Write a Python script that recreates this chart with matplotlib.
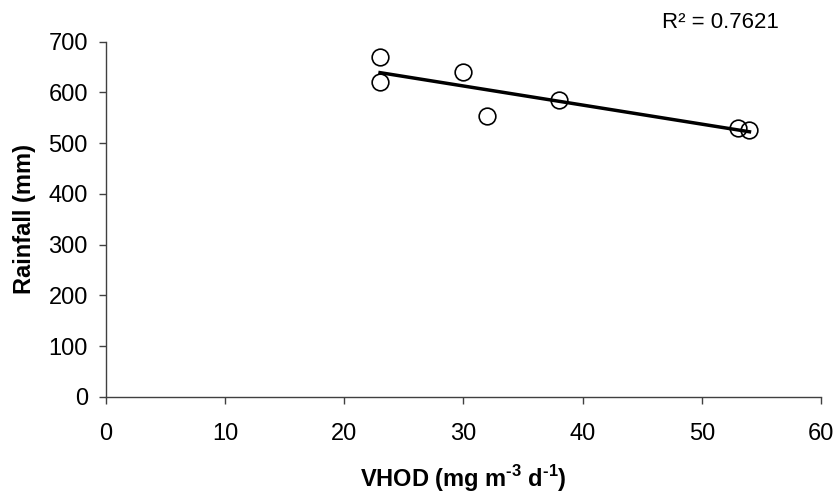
import numpy as np
import matplotlib
matplotlib.use("Agg")
import matplotlib.pyplot as plt

plt.rcParams['font.family'] = ['Liberation Sans', 'DejaVu Sans']
plt.rcParams['mathtext.fontset'] = 'custom'
plt.rcParams['mathtext.rm'] = 'Liberation Sans:bold'
plt.rcParams['mathtext.bf'] = 'Liberation Sans:bold'

vhod = [23, 23, 30, 32, 38, 53, 54]
rainfall = [670, 621, 641, 554, 585, 530, 526]
r2_text = "R\u00b2 = 0.7621"
xticks = [0, 10, 20, 30, 40, 50, 60]
yticks = [0, 100, 200, 300, 400, 500, 600, 700]

fig = plt.figure(figsize=(8.36, 4.93), dpi=100)
ax = fig.add_axes([0.1268, 0.1953, 0.982 - 0.1268, 0.9154 - 0.1953])

x = np.array(vhod, dtype=float)
y = np.array(rainfall, dtype=float)
slope, intercept = np.polyfit(x, y, 1)
xl = np.array([x.min(), x.max()])
ax.plot(xl, slope * xl + intercept, color='black', lw=2.5, zorder=2)
ax.plot(x, y, 'o', ms=12, mfc='none', mec='black', mew=1.2, zorder=3)

ax.set_xlim(0, 60)
ax.set_ylim(0, 700)
ax.set_xticks(xticks)
ax.set_yticks(yticks)
for s in ['top', 'right']:
    ax.spines[s].set_visible(False)
for s in ['left', 'bottom']:
    ax.spines[s].set_color('#404040')
    ax.spines[s].set_linewidth(1.0)
ax.tick_params(axis='both', direction='out', length=5, width=1.0, color='#404040',
               labelsize=17)
ax.tick_params(axis='x', pad=14)
ax.tick_params(axis='y', pad=8)
ax.set_xlabel("VHOD (mg m$^{\\text{-3}}$ d$^{\\text{-1}}$)", fontsize=17,
              fontweight='bold', labelpad=13)
ax.set_ylabel("Rainfall (mm)", fontsize=17, fontweight='bold', labelpad=9)
fig.text(0.862, 0.955, r2_text, fontsize=16, ha='center', va='center')

fig.savefig("out.png", dpi=100)
